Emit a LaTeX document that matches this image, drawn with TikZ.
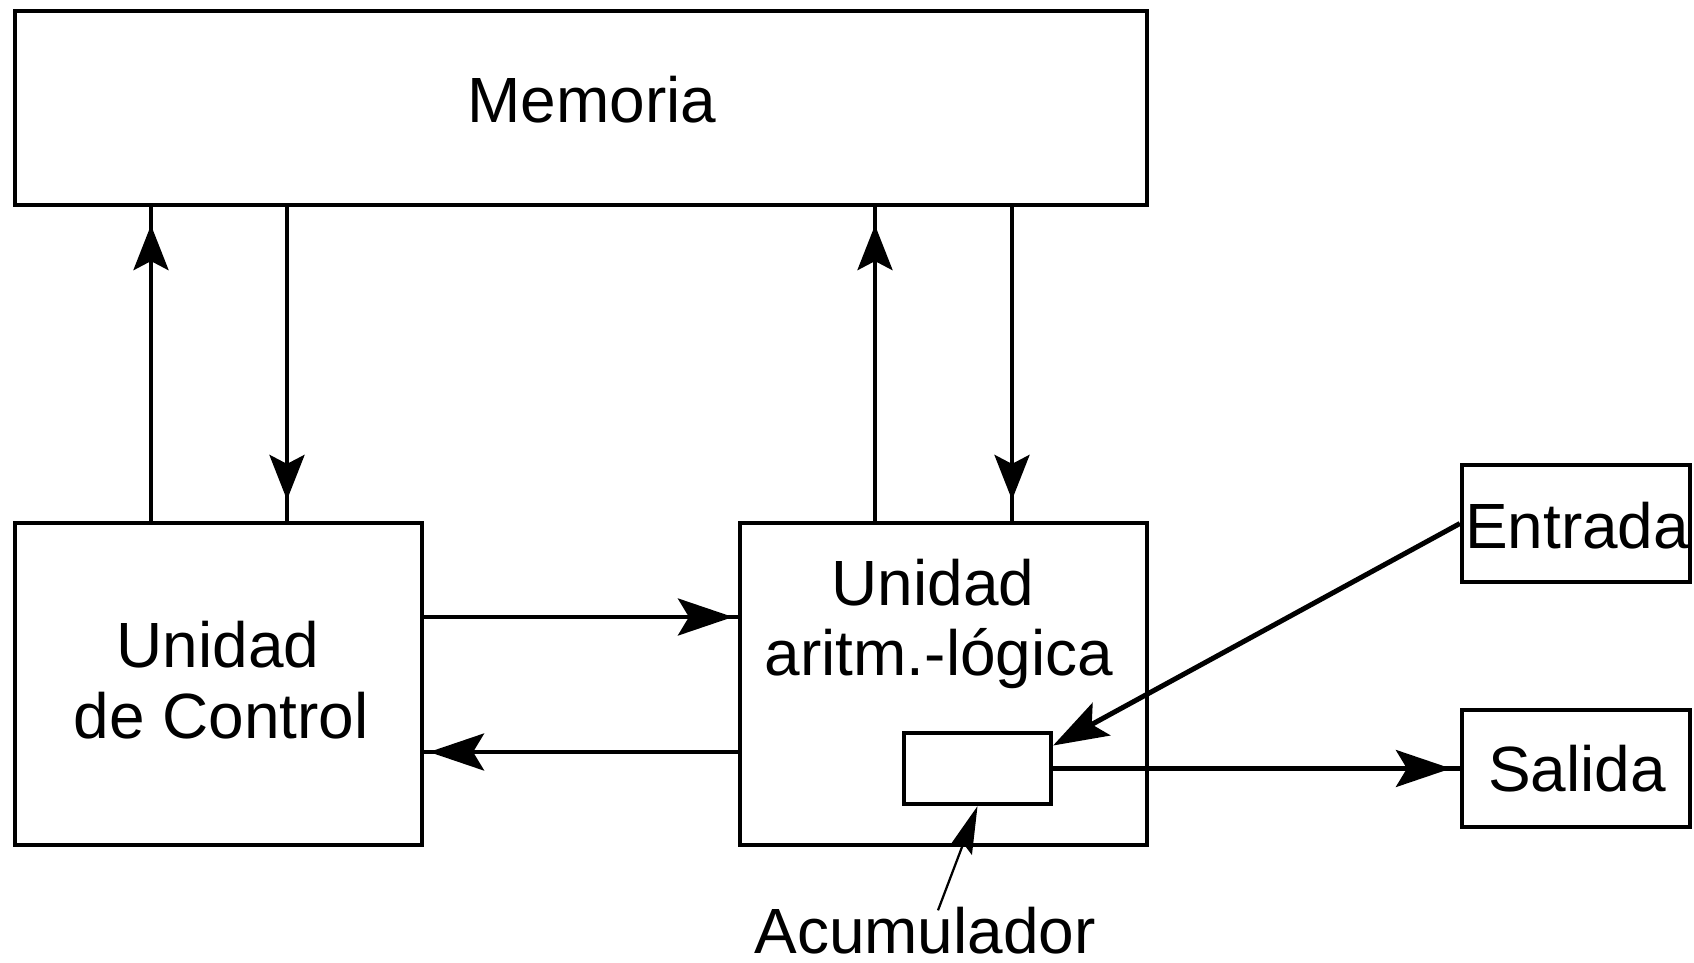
\documentclass[tikz,border=0pt]{standalone}
\usepackage{fontspec}
\setmainfont{Liberation Sans}
\usetikzlibrary{arrows.meta,decorations.markings,calc}

\tikzset{
  vtip/.tip={Stealth[length=0.9cm,width=0.7cm,inset=0.18cm]},
  htip/.tip={Stealth[length=1.1cm,width=0.74cm,inset=0.22cm]},
  ptip/.tip={Stealth[length=0.95cm,width=0.48cm,inset=0.15cm]},
  box/.style={draw, rectangle, line width=0.085cm, inner sep=0pt},
  txt/.style={inner sep=0pt, anchor=base, font=\fontsize{36.4}{39.8}\selectfont},
  wire/.style={line width=0.085cm},
  headat/.style 2 args={postaction={decorate},
    decoration={markings, mark=at position #1 with {\arrow{#2}}}},
}

\begin{document}
\begin{tikzpicture}[x=0.02cm,y=-0.02cm]
\useasboundingbox (0,0) rectangle (1694,963);

% blocks
\node[box, minimum width=22.64cm, minimum height=3.88cm] (mem)  at (581,108)    {};
\node[box, minimum width=8.14cm,  minimum height=6.44cm] (ctrl) at (218.5,684)  {};
\node[box, minimum width=8.14cm,  minimum height=6.44cm] (alu)  at (943.5,684)  {};
\node[box, minimum width=2.94cm,  minimum height=1.42cm] (acc)  at (977.5,768.5) {};
\node[box, minimum width=4.56cm,  minimum height=2.34cm] (ent)  at (1576,523.5) {};
\node[box, minimum width=4.56cm,  minimum height=2.34cm] (sal)  at (1576,768.5) {};

% labels
\node[txt] (memT)  at (592,123)  {Memoria};
\node[txt] (ctrlA) at (218,667)  {Unidad};
\node[txt] (ctrlB) at (221,738)  {de Control};
\node[txt] (aluA)  at (933,605)  {Unidad};
\node[txt] (aluB)  at (939,675)  {aritm.-lógica};
\node[txt] (entT)  at (1577,548) {Entrada};
\node[txt] (salT)  at (1577,791) {Salida};
\node[txt] (accT)  at (925,953)  {Acumulador};

% columns and rows of the buses
\coordinate (xa) at (151,0);
\coordinate (xb) at (287,0);
\coordinate (xc) at (875,0);
\coordinate (xd) at (1012,0);
\coordinate (ya) at (0,617);
\coordinate (yb) at (0,752);

% memory buses
\draw[wire, headat={-0.36cm}{vtip}] (ctrl.north -| xa) -- (mem.south -| xa);
\draw[wire, headat={-0.42cm}{vtip}] (mem.south -| xb) -- (ctrl.north -| xb);
\draw[wire, headat={-0.36cm}{vtip}] (alu.north -| xc) -- (mem.south -| xc);
\draw[wire, headat={-0.42cm}{vtip}] (mem.south -| xd) -- (alu.north -| xd);

% control <-> ALU
\draw[wire, headat={-0.1cm}{htip}] (ctrl.east |- ya) -- (alu.west |- ya);
\draw[wire, headat={-0.1cm}{htip}] (alu.west |- yb) -- (ctrl.east |- yb);

% input / output
\draw[wire, line width=0.1cm, -{htip}] (ent.west) -- ([yshift=0.46cm]acc.east);
\draw[wire, headat={-0.18cm}{htip}] (acc.east) -- (sal.west);

% accumulator pointer
\draw[line width=0.045cm, -{ptip}] ([xshift=0.26cm,yshift=-0.08cm]accT.north) -- (acc.south);
\end{tikzpicture}
\end{document}
